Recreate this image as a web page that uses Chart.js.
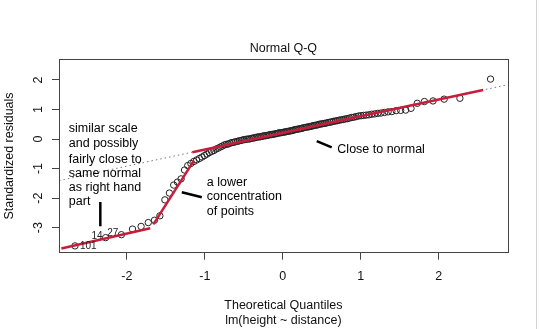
<!DOCTYPE html>
<html>
<head>
<meta charset="utf-8">
<script src="https://cdn.jsdelivr.net/npm/chart.js@4.4.0/dist/chart.umd.min.js"></script>
<style>
html, body { margin: 0; padding: 0; background: #fff; }
</style>
</head>
<body>
<canvas id="qq" width="540" height="329"></canvas>
<script>
// theoretical quantiles and standardized residuals
const quantiles = [
  -2.665, -2.272, -2.070, -1.927, -1.817, -1.725, -1.645, -1.576, -1.512, -1.454,
  -1.399, -1.351, -1.304, -1.260, -1.219, -1.179, -1.141, -1.105, -1.070, -1.036,
  -1.004, -0.973, -0.942, -0.913, -0.884, -0.856, -0.828, -0.801, -0.775, -0.749,
  -0.724, -0.699, -0.675, -0.651, -0.627, -0.604, -0.581, -0.558, -0.536, -0.513,
  -0.492, -0.470, -0.449, -0.427, -0.406, -0.385, -0.366, -0.345, -0.325, -0.304,
  -0.284, -0.264, -0.244, -0.224, -0.204, -0.184, -0.165, -0.145, -0.126, -0.106,
  -0.087, -0.068, -0.048, -0.029, -0.010,
  0.010, 0.029, 0.048, 0.068, 0.087, 0.106, 0.126, 0.145, 0.165, 0.184,
  0.204, 0.224, 0.244, 0.264, 0.284, 0.304, 0.325, 0.345, 0.366, 0.385,
  0.406, 0.427, 0.449, 0.470, 0.492, 0.513, 0.536, 0.558, 0.581, 0.604,
  0.627, 0.651, 0.675, 0.699, 0.724, 0.749, 0.775, 0.801, 0.828, 0.856,
  0.884, 0.913, 0.942, 0.973, 1.004, 1.036, 1.070, 1.105, 1.141, 1.179,
  1.219, 1.260, 1.304, 1.351, 1.399, 1.454, 1.512, 1.576, 1.645, 1.725,
  1.817, 1.927, 2.070, 2.272, 2.665
];
const residuals = [
  -3.62, -3.34, -3.24, -3.05, -2.96, -2.83, -2.75, -2.60, -2.06, -1.83,
  -1.56, -1.46, -1.35, -1.05, -0.90, -0.83, -0.76, -0.71, -0.66, -0.61,
  -0.56, -0.51, -0.46, -0.42, -0.39, -0.34, -0.31, -0.27, -0.24, -0.20,
  -0.18, -0.17, -0.14, -0.12, -0.11, -0.09, -0.08, -0.06, -0.05, -0.03,
  -0.02, -0.01, 0.00, 0.00, 0.02, 0.03, 0.04, 0.05, 0.07, 0.07,
  0.08, 0.09, 0.11, 0.11, 0.12, 0.13, 0.15, 0.15, 0.16, 0.17,
  0.18, 0.19, 0.21, 0.21, 0.22,
  0.23, 0.24, 0.25, 0.26, 0.27, 0.28, 0.29, 0.31, 0.32, 0.33,
  0.34, 0.35, 0.36, 0.38, 0.39, 0.40, 0.41, 0.42, 0.43, 0.45,
  0.46, 0.47, 0.48, 0.50, 0.51, 0.52, 0.53, 0.54, 0.56, 0.57,
  0.58, 0.60, 0.61, 0.62, 0.64, 0.65, 0.66, 0.68, 0.69, 0.71,
  0.73, 0.74, 0.76, 0.78, 0.79, 0.80, 0.81, 0.82, 0.84, 0.85,
  0.87, 0.88, 0.90, 0.92, 0.93, 0.96, 0.97, 0.98, 1.04, 1.21,
  1.27, 1.29, 1.35, 1.38, 2.03
];
const idLabels = ['101', '14', '27'];   // the three lowest points
const xTicks = [-2, -1, 0, 1, 2];
const yTicks = [-3, -2, -1, 0, 1, 2];

// hand drawn red lines, qqline and black pointer marks (data units)
const redLow = [[-2.84, -3.71], [-1.70, -3.02]];
const redSteep = [[-1.66, -2.89], [-1.14, -0.73]];
const redMain = [[-1.16, -0.45], [2.57, 1.66]];
const qqLine = [[-2.87, -1.41], [2.885, 1.84]];
const marks = [
  [[-2.34, -2.13], [-2.34, -2.95]],
  [[-1.295, -1.80], [-1.038, -1.97]],
  [[0.436, -0.068], [0.628, -0.28]]
];
const noteLeft = ['similar scale', 'and possibly', 'fairly close to', 'same normal', 'as right hand', 'part'];
const noteLeftY = [0.34, -0.145, -0.69, -1.165, -1.64, -2.13];
const noteMid = ['a lower', 'concentration', 'of points'];
const noteMidY = [-1.484, -1.959, -2.445];

const FONT = '"Liberation Sans", Arial, sans-serif';
const RED = 'rgb(200,28,58)';
const pts = arr => arr.map(p => ({ x: p[0], y: p[1] }));

const seg = (arr, color, width, order, dash) => ({
  data: pts(arr), showLine: true, borderColor: color, borderWidth: width,
  borderDash: dash || [], pointRadius: 0, order: order
});

const decor = {
  id: 'decor',
  afterDraw(chart) {
    const { ctx, chartArea: a, scales: { x, y } } = chart;
    ctx.save();
    ctx.strokeStyle = '#444';
    ctx.lineWidth = 1;
    ctx.strokeRect(Math.round(a.left) + 0.5, Math.round(a.top) + 0.5,
      Math.round(a.right - a.left), Math.round(a.bottom - a.top));
    ctx.strokeStyle = '#d4d4d4';
    ctx.beginPath(); ctx.moveTo(536.5, 0); ctx.lineTo(536.5, 329); ctx.stroke();

    ctx.fillStyle = '#111';
    ctx.font = '12.5px ' + FONT;
    ctx.textAlign = 'center';
    ctx.textBaseline = 'middle';
    x.ticks.forEach(t => ctx.fillText(String(t.value), x.getPixelForValue(t.value), 277));
    yTicks.forEach(v => {
      ctx.save();
      ctx.translate(39, y.getPixelForValue(v));
      ctx.rotate(-Math.PI / 2);
      ctx.fillText(String(v), 0, 0);
      ctx.restore();
    });
    const cx = (a.left + a.right) / 2;
    ctx.fillText('Normal Q-Q', cx, 49);
    ctx.fillText('Theoretical Quantiles', cx, 306);
    ctx.fillText('lm(height ~ distance)', cx, 320.5);
    ctx.save();
    ctx.translate(10, (a.top + a.bottom) / 2);
    ctx.rotate(-Math.PI / 2);
    ctx.fillText('Standardized residuals', 0, 0);
    ctx.restore();

    ctx.fillStyle = '#000';
    ctx.textAlign = 'left';
    noteLeft.forEach((s, i) => ctx.fillText(s, x.getPixelForValue(-2.744), y.getPixelForValue(noteLeftY[i])));
    noteMid.forEach((s, i) => ctx.fillText(s, x.getPixelForValue(-0.974), y.getPixelForValue(noteMidY[i])));
    ctx.fillText('Close to normal', x.getPixelForValue(0.70), y.getPixelForValue(-0.34));

    ctx.font = '10px ' + FONT;
    ctx.fillStyle = '#222';
    idLabels.forEach((s, i) => {
      const px = x.getPixelForValue(quantiles[i]);
      const py = y.getPixelForValue(residuals[i]);
      if (i === 0) { ctx.textAlign = 'left'; ctx.fillText(s, px + 5, py); }
      else { ctx.textAlign = 'right'; ctx.fillText(s, px - 3, py - 1); }
    });
    ctx.restore();
  }
};

new Chart(document.getElementById('qq'), {
  type: 'scatter',
  data: {
    datasets: [
      seg(redLow, RED, 2.5, 0),
      seg(redSteep, RED, 2.5, 0),
      seg(redMain, RED, 2.5, 0),
      ...marks.map(m => seg(m, '#000', 2.5, 0)),
      {
        data: quantiles.map((q, i) => ({ x: q, y: residuals[i] })),
        pointStyle: 'circle', pointRadius: 3.2, borderWidth: 1,
        borderColor: '#222', backgroundColor: 'rgba(0,0,0,0)', order: 1
      },
      seg(qqLine, '#777', 1, 2, [1.5, 3])
    ]
  },
  options: {
    responsive: false,
    animation: false,
    layout: { padding: { top: 59.3, right: 32.3, left: 0, bottom: 0 } },
    plugins: { legend: { display: false }, tooltip: { enabled: false } },
    scales: {
      x: {
        type: 'linear', min: -2.87, max: 2.885,
        afterBuildTicks: s => { s.ticks = xTicks.map(v => ({ value: v })); },
        afterFit: s => { s.height = 76.3; },
        ticks: { display: false },
        grid: { drawOnChartArea: false, drawTicks: true, tickLength: 7, color: '#444' },
        border: { display: false }
      },
      y: {
        type: 'linear', min: -3.85, max: 2.70,
        afterBuildTicks: s => { s.ticks = yTicks.map(v => ({ value: v })); },
        afterFit: s => { s.width = 59; },
        ticks: { display: false },
        grid: { drawOnChartArea: false, drawTicks: true, tickLength: 7, color: '#444' },
        border: { display: false }
      }
    }
  },
  plugins: [decor]
});
</script>
</body>
</html>
